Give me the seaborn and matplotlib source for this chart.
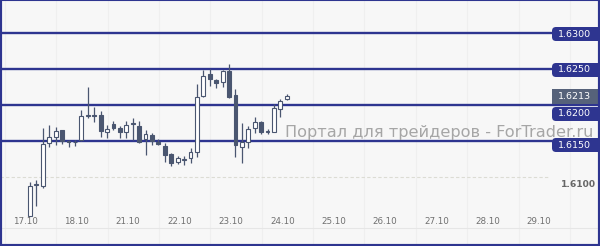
import numpy as np
import matplotlib
matplotlib.use("Agg")
import matplotlib.pyplot as plt
from matplotlib.patches import FancyBboxPatch, Rectangle
from matplotlib.transforms import IdentityTransform
import seaborn as sns

# ---- data (3-hour candles, GBP/USD style) ----
open_ = [1.6046, 1.6089, 1.6088, 1.6147, 1.6156, 1.6165, 1.6150, 1.6149, 1.6151, 1.6185,
         1.6186, 1.6186, 1.6163, 1.6174, 1.6168, 1.6163, 1.6175, 1.6171, 1.6153, 1.6158,
         1.6149, 1.6143, 1.6132, 1.6121, 1.6124, 1.6126, 1.6135, 1.6213, 1.6243, 1.6235,
         1.6232, 1.6247, 1.6214, 1.6142, 1.6149, 1.6168, 1.6176, 1.6163, 1.6163, 1.6194,
         1.6208]
high = [1.6093, 1.6096, 1.6168, 1.6172, 1.6169, 1.6165, 1.6151, 1.6151, 1.6193, 1.6225,
        1.6197, 1.6192, 1.6172, 1.6178, 1.6171, 1.6178, 1.6182, 1.6178, 1.6165, 1.6161,
        1.6153, 1.6147, 1.6133, 1.6129, 1.6129, 1.6140, 1.6229, 1.6249, 1.6250, 1.6236,
        1.6249, 1.6257, 1.6222, 1.6175, 1.6171, 1.6183, 1.6178, 1.6167, 1.6201, 1.6208,
        1.6215]
low = [1.6046, 1.6060, 1.6085, 1.6142, 1.6144, 1.6146, 1.6142, 1.6143, 1.6150, 1.6182,
       1.6176, 1.6156, 1.6154, 1.6165, 1.6154, 1.6154, 1.6151, 1.6147, 1.6131, 1.6144,
       1.6144, 1.6121, 1.6115, 1.6118, 1.6117, 1.6119, 1.6128, 1.6211, 1.6226, 1.6224,
       1.6225, 1.6210, 1.6128, 1.6119, 1.6140, 1.6161, 1.6160, 1.6160, 1.6162, 1.6183,
       1.6207]
close = [1.6088, 1.6090, 1.6146, 1.6156, 1.6164, 1.6150, 1.6149, 1.6148, 1.6185, 1.6186,
         1.6185, 1.6164, 1.6167, 1.6168, 1.6163, 1.6172, 1.6174, 1.6149, 1.6160, 1.6150,
         1.6146, 1.6131, 1.6119, 1.6126, 1.6125, 1.6135, 1.6211, 1.6240, 1.6236, 1.6231,
         1.6247, 1.6211, 1.6144, 1.6149, 1.6167, 1.6176, 1.6163, 1.6164, 1.6196, 1.6206,
         1.6213]

date_labels = ["17.10", "18.10", "21.10", "22.10", "23.10", "24.10",
               "25.10", "26.10", "27.10", "28.10", "29.10"]
candles_per_day = 8

level_values = [1.6300, 1.6250, 1.6200, 1.6150]
level_labels = ["1.6300", "1.6250", "1.6200", "1.6150"]
current_price = 1.6213
grid_level = 1.6100
watermark = "Портал для трейдеров - ForTrader.ru"

# ---- style ----
sns.set_theme(style="white")
plt.rcParams['font.family'] = ['DejaVu Sans']

NAVY = "#2e3590"
CANDLE = "#4a5670"
CUR = "#56627a"
BG = "#f7f7f7"
W, H = 600, 246

fig = plt.figure(figsize=(W / 100, H / 100), dpi=100)
fig.patch.set_facecolor(BG)
ax = fig.add_axes([0, 0, 1, 1])
ax.set_facecolor(BG)

n = len(open_)
x = np.arange(n)
o = np.array(open_); h = np.array(high); l = np.array(low); c = np.array(close)

px_per = 6.42
ax.set_xlim((0 - 30) / px_per, (W - 30) / px_per)
ppy = 0.005 / 36
ax.set_ylim(1.62 - (H - 105) * ppy, 1.62 + 105 * ppy)

# faint vertical day grid
for k in range(len(date_labels) + 1):
    ax.axvline(-0.7 + candles_per_day * k - 3.2, color="#efefef", lw=0.8, zorder=0)

# bottom separator
ax.axhline(1.62 - (228 - 105) * ppy, color="#e6e6e6", lw=0.8, zorder=0)

# dashed grid line at 1.6100
ax.axhline(grid_level, xmin=0, xmax=550 / W, color="#dcdcd4", lw=0.8,
           ls=(0, (3, 2)), zorder=1)

# level lines
for v in level_values:
    xmax = 1.0 if v == 1.6200 else 552 / W
    ax.axhline(v, xmin=0, xmax=xmax, color=NAVY, lw=1.7, zorder=2)

# watermark
ax.text(285 / W, 1.6150 + 0.00058, watermark, transform=ax.get_yaxis_transform(),
        color="#a6a6a6", fontsize=11.6, ha="left", va="baseline", zorder=3)

# candles
ax.vlines(x, l, h, color=CANDLE, lw=0.9, zorder=4)
bull = c >= o
bottoms = np.minimum(o, c)
heights = np.maximum(np.abs(c - o), 0.00004)
ax.bar(x[bull], heights[bull], bottom=bottoms[bull], width=0.6,
       facecolor="white", edgecolor=CANDLE, linewidth=0.8, zorder=5)
ax.bar(x[~bull], heights[~bull], bottom=bottoms[~bull], width=0.6,
       facecolor=CANDLE, edgecolor=CANDLE, linewidth=0.8, zorder=5)

# date labels
for k, lab in enumerate(date_labels):
    ax.text(-0.7 + candles_per_day * k, 1 - 222 / H, lab,
            transform=ax.get_xaxis_transform(), ha="center", va="center",
            fontsize=6.3, color="#707070", zorder=6)

# right price tags (pixel offsets of tag centre below the price level)
fig.canvas.draw()
def ypix(v):
    return ax.transData.transform((0, v))[1]

tag_off = {1.6300: 1, 1.6250: 1, 1.6200: 9, 1.6150: 4}
tag_h = 14
for v, lab in zip(level_values, level_labels):
    yc = ypix(v) - tag_off[v]
    ax.add_patch(FancyBboxPatch((552, yc - tag_h / 2), 60, tag_h,
                                boxstyle="round,pad=0,rounding_size=4",
                                fc=NAVY, ec="none", transform=IdentityTransform(),
                                zorder=7, clip_on=False))
    ax.text(574.5, yc, lab, transform=IdentityTransform(), ha="center", va="center",
            fontsize=6.8, color="white", zorder=8)

yc = ypix(current_price) - 0.5
ax.add_patch(Rectangle((552, yc - 7.5), 60, 15, fc=CUR, ec="none",
                       transform=IdentityTransform(), zorder=7, clip_on=False))
ax.text(574.5, yc, f"{current_price:.4f}", transform=IdentityTransform(),
        ha="center", va="center", fontsize=6.8, color="white", zorder=8)

ax.text(578 / W, grid_level - 0.001, f"{grid_level:.4f}",
        transform=ax.get_yaxis_transform(), ha="center", va="center",
        fontsize=6.6, color="#666666", fontweight="bold", zorder=8)

ax.set_xticks([]); ax.set_yticks([])
for side, sp in ax.spines.items():
    sp.set_visible(True)
    sp.set_color(NAVY)
    sp.set_linewidth(3.0 if side != "top" else 1.5)
    sp.set_zorder(10)

fig.savefig("out.png", dpi=100, facecolor=BG)
